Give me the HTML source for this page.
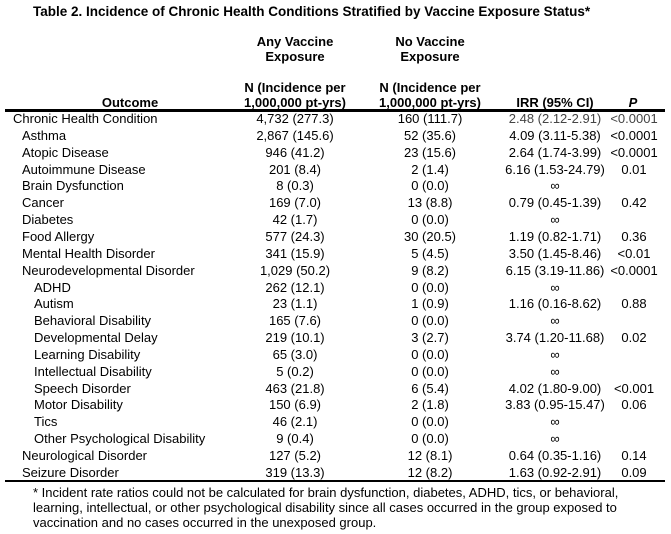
<!DOCTYPE html>
<html><head><meta charset="utf-8"><style>
body{margin:0;width:671px;height:534px;background:#fff;font-family:"Liberation Sans",Arial,sans-serif;color:#000;position:relative;overflow:hidden}
.t{position:absolute;white-space:nowrap;font-size:13px;line-height:15px}
.h{font-family:"Liberation Sans Narrow","Liberation Sans",sans-serif;font-weight:bold;font-size:13px;line-height:15px;position:absolute;text-align:center;white-space:nowrap}
.c{text-align:center;transform:translateX(-50%)}
.line{position:absolute;left:5px;width:660px;background:#000}
</style></head><body>
<div class="h" style="left:33px;top:4px;text-align:left;font-size:13.5px">Table 2. Incidence of Chronic Health Conditions Stratified by Vaccine Exposure Status*</div>
<div class="h" style="left:295px;top:34px;transform:translateX(-50%)">Any Vaccine<br>Exposure</div>
<div class="h" style="left:430px;top:34px;transform:translateX(-50%)">No Vaccine<br>Exposure</div>
<div class="h" style="left:295px;top:80px;transform:translateX(-50%)">N (Incidence per<br>1,000,000 pt-yrs)</div>
<div class="h" style="left:430px;top:80px;transform:translateX(-50%)">N (Incidence per<br>1,000,000 pt-yrs)</div>
<div class="h" style="left:130px;top:95px;transform:translateX(-50%)">Outcome</div>
<div class="h" style="left:555px;top:95px;transform:translateX(-50%)">IRR (95% CI)</div>
<div class="h" style="left:633px;top:95px;transform:translateX(-50%);font-style:italic">P</div>
<div class="line" style="top:109px;height:3px"></div>
<div id="rows"></div>
<div class="line" style="top:480px;height:2px"></div>
<div class="t" style="left:33px;top:485px;line-height:15px">* Incident rate ratios could not be calculated for brain dysfunction, diabetes, ADHD, tics, or behavioral,<br>learning, intellectual, or other psychological disability since all cases occurred in the group exposed to<br>vaccination and no cases occurred in the unexposed group.</div>
<script>
var R=[
[13,"Chronic Health Condition","4,732 (277.3)","160 (111.7)","2.48 (2.12-2.91)","<0.0001"],
[22,"Asthma","2,867 (145.6)","52 (35.6)","4.09 (3.11-5.38)","<0.0001"],
[22,"Atopic Disease","946 (41.2)","23 (15.6)","2.64 (1.74-3.99)","<0.0001"],
[22,"Autoimmune Disease","201 (8.4)","2 (1.4)","6.16 (1.53-24.79)","0.01"],
[22,"Brain Dysfunction","8 (0.3)","0 (0.0)","∞",""],
[22,"Cancer","169 (7.0)","13 (8.8)","0.79 (0.45-1.39)","0.42"],
[22,"Diabetes","42 (1.7)","0 (0.0)","∞",""],
[22,"Food Allergy","577 (24.3)","30 (20.5)","1.19 (0.82-1.71)","0.36"],
[22,"Mental Health Disorder","341 (15.9)","5 (4.5)","3.50 (1.45-8.46)","<0.01"],
[22,"Neurodevelopmental Disorder","1,029 (50.2)","9 (8.2)","6.15 (3.19-11.86)","<0.0001"],
[34,"ADHD","262 (12.1)","0 (0.0)","∞",""],
[34,"Autism","23 (1.1)","1 (0.9)","1.16 (0.16-8.62)","0.88"],
[34,"Behavioral Disability","165 (7.6)","0 (0.0)","∞",""],
[34,"Developmental Delay","219 (10.1)","3 (2.7)","3.74 (1.20-11.68)","0.02"],
[34,"Learning Disability","65 (3.0)","0 (0.0)","∞",""],
[34,"Intellectual Disability","5 (0.2)","0 (0.0)","∞",""],
[34,"Speech Disorder","463 (21.8)","6 (5.4)","4.02 (1.80-9.00)","<0.001"],
[34,"Motor Disability","150 (6.9)","2 (1.8)","3.83 (0.95-15.47)","0.06"],
[34,"Tics","46 (2.1)","0 (0.0)","∞",""],
[34,"Other Psychological Disability","9 (0.4)","0 (0.0)","∞",""],
[22,"Neurological Disorder","127 (5.2)","12 (8.1)","0.64 (0.35-1.16)","0.14"],
[22,"Seizure Disorder","319 (13.3)","12 (8.2)","1.63 (0.92-2.91)","0.09"]];
var h="";
R.forEach(function(r,i){var y=111+i*16.85;var col=i==0?"#444":"#000";
h+='<div class="t" style="left:'+r[0]+'px;top:'+y+'px">'+r[1]+'</div>';
h+='<div class="t c" style="left:295px;top:'+y+'px">'+r[2]+'</div>';
h+='<div class="t c" style="left:430px;top:'+y+'px">'+r[3]+'</div>';
h+='<div class="t c" style="left:555px;top:'+y+'px;color:'+col+'">'+r[4]+'</div>';
h+='<div class="t c" style="left:634px;top:'+y+'px;color:'+col+'">'+r[5].replace("<","&lt;")+'</div>';});
document.getElementById("rows").innerHTML=h;
</script>
</body></html>
